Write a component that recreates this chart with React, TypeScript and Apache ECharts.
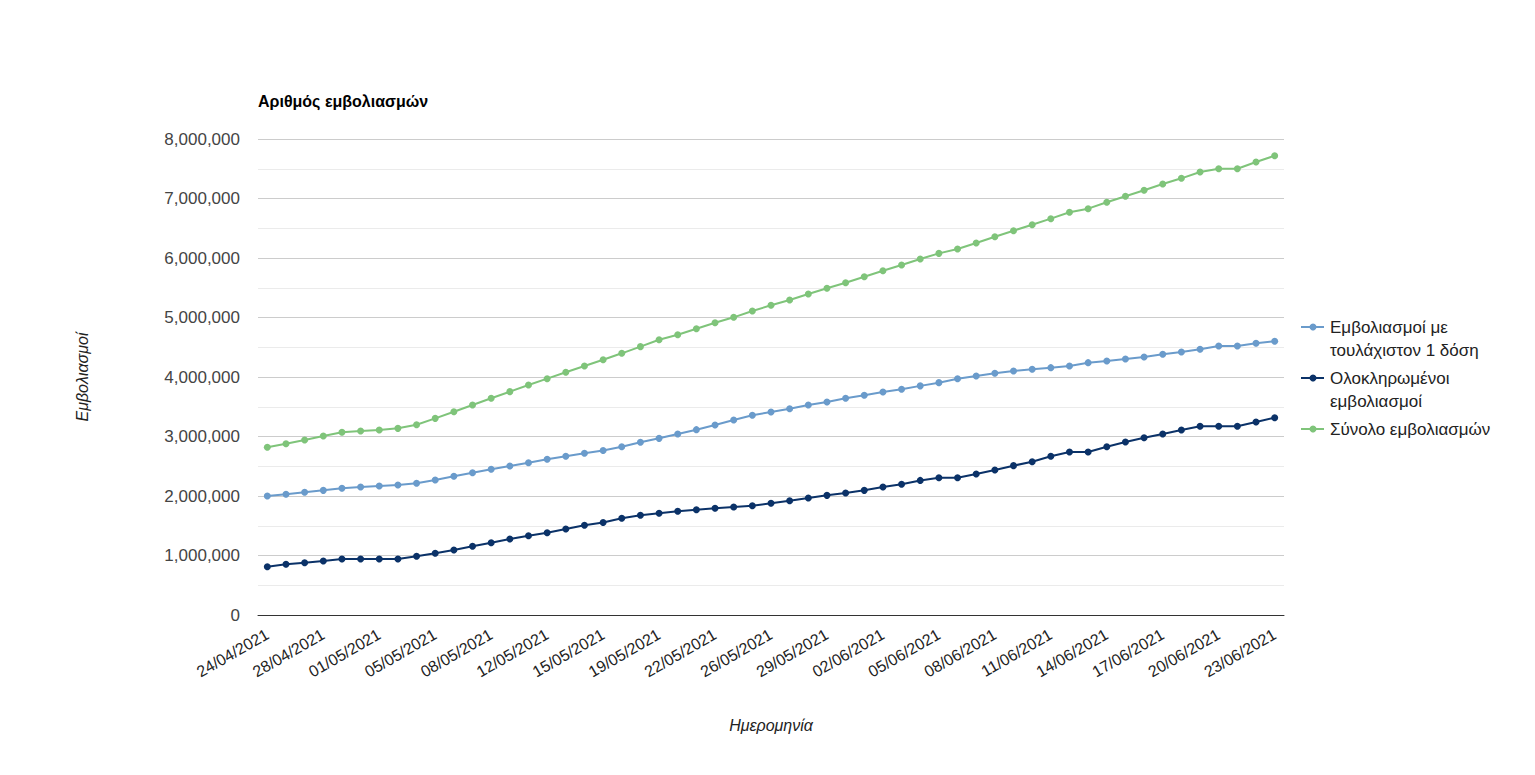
import React, { useEffect, useRef } from "react";
import * as echarts from "echarts";

const dates: string[] = [
  "24/04/2021", "26/04/2021", "27/04/2021", "28/04/2021", "29/04/2021", "30/04/2021",
  "01/05/2021", "03/05/2021", "04/05/2021", "05/05/2021", "06/05/2021", "07/05/2021", "08/05/2021",
  "10/05/2021", "11/05/2021", "12/05/2021", "13/05/2021", "14/05/2021", "15/05/2021",
  "17/05/2021", "18/05/2021", "19/05/2021", "20/05/2021", "21/05/2021", "22/05/2021",
  "24/05/2021", "25/05/2021", "26/05/2021", "27/05/2021", "28/05/2021", "29/05/2021",
  "31/05/2021", "01/06/2021", "02/06/2021", "03/06/2021", "04/06/2021", "05/06/2021",
  "06/06/2021", "07/06/2021", "08/06/2021", "09/06/2021", "10/06/2021", "11/06/2021",
  "12/06/2021", "13/06/2021", "14/06/2021", "15/06/2021", "16/06/2021", "17/06/2021",
  "18/06/2021", "19/06/2021", "20/06/2021", "21/06/2021", "22/06/2021", "23/06/2021",
];

const atLeastOneDose: number[] = [
  2000000, 2028000, 2062000, 2095000, 2129000, 2151000, 2168000, 2185000, 2213000, 2269000,
  2331000, 2392000, 2449000, 2504000, 2560000, 2617000, 2667000, 2718000, 2765000, 2829000,
  2902000, 2969000, 3042000, 3115000, 3193000, 3277000, 3356000, 3412000, 3467000, 3529000,
  3580000, 3642000, 3692000, 3748000, 3793000, 3851000, 3905000, 3972000, 4017000, 4062000,
  4101000, 4129000, 4157000, 4185000, 4241000, 4269000, 4303000, 4336000, 4381000, 4420000,
  4465000, 4521000, 4521000, 4566000, 4600000,
];

const fullyVaccinated: number[] = [
  812000, 852000, 879000, 908000, 941000, 941000, 941000, 941000, 986000, 1037000,
  1092000, 1154000, 1215000, 1277000, 1333000, 1383000, 1445000, 1507000, 1555000, 1625000,
  1675000, 1709000, 1743000, 1770000, 1793000, 1815000, 1837000, 1877000, 1921000, 1966000,
  2011000, 2050000, 2095000, 2151000, 2196000, 2262000, 2308000, 2308000, 2370000, 2437000,
  2510000, 2577000, 2667000, 2739000, 2739000, 2829000, 2908000, 2980000, 3042000, 3109000,
  3171000, 3171000, 3171000, 3244000, 3316000,
];

const totalVaccinations: number[] = [
  2818000, 2879000, 2941000, 3008000, 3070000, 3092000, 3109000, 3137000, 3198000, 3305000,
  3417000, 3529000, 3642000, 3754000, 3866000, 3972000, 4079000, 4185000, 4291000, 4398000,
  4510000, 4627000, 4711000, 4812000, 4913000, 5003000, 5110000, 5205000, 5295000, 5395000,
  5491000, 5585000, 5686000, 5787000, 5882000, 5983000, 6078000, 6151000, 6252000, 6358000,
  6459000, 6560000, 6661000, 6768000, 6829000, 6936000, 7037000, 7138000, 7244000, 7339000,
  7445000, 7501000, 7501000, 7613000, 7719000,
];

const seriesNames: string[] = [
  "Εμβολιασμοί με τουλάχιστον 1 δόση",
  "Ολοκληρωμένοι εμβολιασμοί",
  "Σύνολο εμβολιασμών",
];
const legendLines: string[][] = [
  ["Εμβολιασμοί με", "τουλάχιστον 1 δόση"],
  ["Ολοκληρωμένοι", "εμβολιασμοί"],
  ["Σύνολο εμβολιασμών"],
];
const colors: string[] = ["#6a9bcb", "#0b3268", "#7fc47a"];

const FONT = "Arial, 'Liberation Sans', sans-serif";

export default function App() {
  const ref = useRef<HTMLDivElement>(null);
  useEffect(() => {
    if (!ref.current) return;
    const chart = echarts.init(ref.current, null, { renderer: "svg" });
    const dataSets = [atLeastOneDose, fullyVaccinated, totalVaccinations];

    const legendGraphics: any[] = [];
    let y = 327;
    legendLines.forEach((lines, i) => {
      legendGraphics.push({
        type: "line",
        shape: { x1: 1301, y1: y, x2: 1324, y2: y },
        style: { stroke: colors[i], lineWidth: 2 },
      });
      legendGraphics.push({
        type: "circle",
        shape: { cx: 1313, cy: y, r: 3.5 },
        style: { fill: colors[i] },
      });
      lines.forEach((ln, j) => {
        legendGraphics.push({
          type: "text",
          x: 1330,
          y: y + j * 23,
          style: {
            text: ln,
            font: `17px ${FONT}`,
            fill: "#222222",
            verticalAlign: "middle",
            align: "left",
          },
        });
      });
      y += lines.length === 2 ? 51 : 28;
    });

    chart.setOption({
      animation: false,
      backgroundColor: "#ffffff",
      textStyle: { fontFamily: FONT },
      title: {
        text: "Αριθμός εμβολιασμών",
        left: 253,
        top: 88,
        textStyle: { fontSize: 16, fontWeight: "bold", color: "#000000", fontFamily: FONT },
      },
      grid: { left: 258, right: 251, top: 139, bottom: 160, containLabel: false },
      xAxis: {
        type: "category",
        data: dates,
        boundaryGap: true,
        name: "Ημερομηνία",
        nameLocation: "middle",
        nameGap: 102,
        nameTextStyle: { fontStyle: "italic", fontSize: 16, color: "#222222", fontFamily: FONT },
        axisLine: { lineStyle: { color: "#333333", width: 1 } },
        axisTick: { show: false },
        axisLabel: {
          interval: 2,
          rotate: 30,
          fontSize: 16,
          color: "#222222",
          margin: 18,
          fontFamily: FONT,
        },
        splitLine: { show: false },
      },
      yAxis: {
        type: "value",
        min: 0,
        max: 8000000,
        interval: 1000000,
        name: "Εμβολιασμοί",
        nameLocation: "middle",
        nameGap: 168,
        nameTextStyle: { fontStyle: "italic", fontSize: 16, color: "#222222", fontFamily: FONT },
        axisLine: { show: false },
        axisTick: { show: false },
        axisLabel: {
          fontSize: 17,
          color: "#444444",
          margin: 18,
          fontFamily: FONT,
          formatter: (v: number) => v.toLocaleString("en-US"),
        },
        splitLine: { lineStyle: { color: "#cccccc", width: 1 } },
        minorTick: { show: false, splitNumber: 2 },
        minorSplitLine: { show: true, lineStyle: { color: "#ebebeb", width: 1 } },
      },
      series: seriesNames.map((name, i) => ({
        name,
        type: "line",
        data: dataSets[i],
        symbol: "circle",
        symbolSize: 7,
        showSymbol: true,
        lineStyle: { width: 2, color: colors[i] },
        itemStyle: { color: colors[i] },
        z: 2 + (i === 1 ? 1 : 0),
      })),
      graphic: legendGraphics,
    });
    return () => chart.dispose();
  }, []);
  return (
    <div
      ref={ref}
      style={{ position: "absolute", left: 0, top: 0, width: 1535, height: 775 }}
    />
  );
}
